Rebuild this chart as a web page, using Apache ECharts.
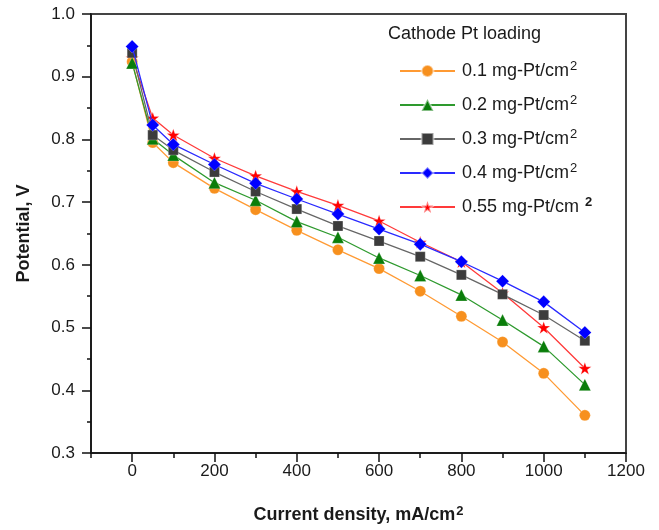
<!DOCTYPE html>
<html>
<head>
<meta charset="utf-8">
<script src="https://cdn.jsdelivr.net/npm/echarts@6/dist/echarts.min.js"></script>
<style>html,body{margin:0;padding:0;background:#fff}#c{width:659px;height:530px}</style>
</head>
<body>
<div id="c"></div>
<script>
const xValues = [0, 50, 100, 200, 300, 400, 500, 600, 700, 800, 900, 1000, 1100];
const pt01  = [0.924, 0.795, 0.763, 0.722, 0.688, 0.655, 0.624, 0.594, 0.558, 0.518, 0.477, 0.427, 0.360];
const pt02  = [0.922, 0.801, 0.775, 0.731, 0.703, 0.669, 0.644, 0.611, 0.583, 0.552, 0.512, 0.470, 0.409];
const pt03  = [0.938, 0.807, 0.783, 0.748, 0.717, 0.689, 0.662, 0.638, 0.613, 0.584, 0.553, 0.520, 0.479];
const pt04  = [0.948, 0.823, 0.792, 0.760, 0.730, 0.705, 0.681, 0.657, 0.633, 0.605, 0.574, 0.541, 0.492];
const pt055 = [0.930, 0.834, 0.807, 0.770, 0.742, 0.717, 0.695, 0.670, 0.636, 0.605, 0.555, 0.500, 0.435];
const seriesNames = ['0.1 mg-Pt/cm', '0.2 mg-Pt/cm', '0.3 mg-Pt/cm', '0.4 mg-Pt/cm', '0.55 mg-Pt/cm'];
const xTickLabels = [0, 200, 400, 600, 800, 1000, 1200];
const yTickLabels = [0.3, 0.4, 0.5, 0.6, 0.7, 0.8, 0.9, 1.0];
const legendTitle = 'Cathode Pt loading';
const xTitle = 'Current density, mA/cm';
const yTitle = 'Potential, V';

const FONT = '"Liberation Sans", Arial, sans-serif';
const STAR = 'path://M12,0 L14.9,8.6 L24,8.6 L16.6,14 L19.4,22.8 L12,17.4 L4.6,22.8 L7.4,14 L0,8.6 L9.1,8.6 Z';

function pairs(ys) { return xValues.map((x, i) => [x, ys[i]]); }

const styles = [
  { data: pt01,  symbol: 'circle',   size: 11, line: '#ff9a33', fill: '#f7901e', z: 3 },
  { data: pt02,  symbol: 'triangle', size: 12, line: '#2e9a2e', fill: '#0a7d0a', z: 3 },
  { data: pt03,  symbol: 'rect',     size: 10, line: '#666666', fill: '#3c3c3c', z: 3 },
  { data: pt04,  symbol: 'diamond',  size: 13, line: '#2a2aff', fill: '#0000ff', z: 4 },
  { data: pt055, symbol: STAR,       size: 13, line: '#ff3a3a', fill: '#ff0000', z: 2 }
];

const series = styles.map((s, i) => ({
  name: seriesNames[i],
  type: 'line',
  data: pairs(s.data),
  symbol: s.symbol,
  symbolSize: s.size,
  symbolKeepAspect: true,
  z: s.z,
  lineStyle: { color: s.line, width: 1.3 },
  itemStyle: { color: s.fill, borderColor: 'rgba(255,255,255,0.5)', borderWidth: 0.5 },
  emphasis: { disabled: true },
  animation: false
}));

const chart = echarts.init(document.getElementById('c'), null, { renderer: 'canvas' });
chart.setOption({
  animation: false,
  textStyle: { fontFamily: FONT },
  grid: { left: 91, right: 33, top: 14, bottom: 77, show: true, borderColor: '#444', borderWidth: 2, backgroundColor: 'transparent' },
  graphic: [{
    type: 'text', left: 388, top: 25,
    style: { text: legendTitle, fontSize: 18, fontFamily: FONT, fill: '#1a1a1a' }
  }],
  legend: {
    orient: 'vertical', left: 394, top: 55,
    itemWidth: 55, itemHeight: 15, itemGap: 14,
    data: seriesNames,
    formatter: function (name) {
      if (name === '0.55 mg-Pt/cm') return '{t|' + name + ' }{sb|2}';
      return '{t|' + name + '}{s|2}';
    },
    textStyle: {
      fontFamily: FONT, color: '#1a1a1a', padding: [0, 0, 0, 2],
      rich: {
        t: { fontSize: 18, fontFamily: FONT, color: '#1a1a1a', lineHeight: 21 },
        s: { fontSize: 13, fontFamily: FONT, color: '#1a1a1a', padding: [0, 0, 9, 1] },
        sb: { fontSize: 13, fontWeight: 'bold', fontFamily: FONT, color: '#1a1a1a', padding: [0, 0, 9, 1] }
      }
    }
  },
  xAxis: [{
    type: 'value', min: -100, max: 1200, interval: 100,
    name: '{b|' + xTitle + '}{s|2}', nameLocation: 'middle', nameGap: 52,
    nameTextStyle: {
      rich: {
        b: { fontSize: 18, fontWeight: 'bold', fontFamily: FONT, color: '#1a1a1a' },
        s: { fontSize: 13, fontWeight: 'bold', fontFamily: FONT, color: '#1a1a1a', padding: [0, 0, 7, 1] }
      }
    },
    axisLine: { show: true, onZero: false, lineStyle: { color: '#111', width: 1.5 } },
    axisTick: { show: true, inside: false, length: 5, lineStyle: { color: '#111', width: 1.5 } },
    axisLabel: {
      show: true, margin: 10, fontSize: 17, color: '#1a1a1a', fontFamily: FONT,
      customValues: xTickLabels,
      formatter: v => String(v)
    },
    splitLine: { show: false }
  }, {
    type: 'value', min: -100, max: 1200, position: 'bottom', offset: 0,
    axisLine: { show: false },
    axisTick: { show: true, length: 9, customValues: xTickLabels, lineStyle: { color: '#111', width: 1.5 } },
    axisLabel: { show: false },
    splitLine: { show: false }
  }],
  yAxis: {
    type: 'value', min: 0.3, max: 1.0, interval: 0.1,
    name: yTitle, nameLocation: 'middle', nameGap: 58,
    nameTextStyle: { fontSize: 18, fontWeight: 'bold', fontFamily: FONT, color: '#1a1a1a' },
    axisLine: { show: true, onZero: false, lineStyle: { color: '#111', width: 1.5 } },
    axisTick: { show: true, length: 9, lineStyle: { color: '#111', width: 1.5 } },
    minorTick: { show: true, splitNumber: 2, length: 4, lineStyle: { color: '#111', width: 1.5 } },
    axisLabel: {
      margin: 16, fontSize: 17, color: '#1a1a1a', fontFamily: FONT,
      customValues: yTickLabels,
      formatter: v => v.toFixed(1)
    },
    splitLine: { show: false }
  },
  series: series
});
</script>
</body>
</html>
